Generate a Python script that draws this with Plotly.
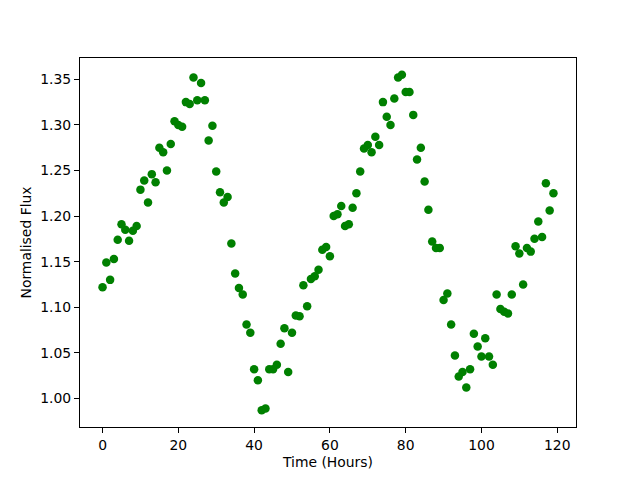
import plotly.graph_objects as go

hours = list(range(120))
flux = [
    1.122, 1.149, 1.130, 1.153, 1.174, 1.191, 1.185, 1.173, 1.184, 1.189,
    1.229, 1.239, 1.215, 1.246, 1.237, 1.275, 1.270, 1.250, 1.279, 1.304,
    1.300, 1.298, 1.325, 1.323, 1.352, 1.327, 1.346, 1.327, 1.283, 1.299,
    1.249, 1.226, 1.215, 1.221, 1.170, 1.137, 1.121, 1.114, 1.081, 1.072,
    1.032, 1.020, 0.987, 0.989, 1.032, 1.032, 1.037, 1.060, 1.077, 1.029,
    1.072, 1.091, 1.090, 1.124, 1.101, 1.131, 1.134, 1.141, 1.163, 1.166,
    1.156, 1.200, 1.202, 1.211, 1.189, 1.191, 1.209, 1.225, 1.249, 1.274,
    1.278, 1.270, 1.287, 1.278, 1.325, 1.309, 1.300, 1.329, 1.352, 1.355,
    1.336, 1.336, 1.311, 1.262, 1.275, 1.238, 1.207, 1.172, 1.165, 1.165,
    1.108, 1.115, 1.081, 1.047, 1.024, 1.029, 1.012, 1.032, 1.071, 1.057,
    1.046, 1.066, 1.046, 1.037, 1.114, 1.098, 1.095, 1.093, 1.114, 1.167,
    1.159, 1.125, 1.165, 1.161, 1.175, 1.194, 1.177, 1.236, 1.206, 1.225,
]

x_ticks = [0, 20, 40, 60, 80, 100, 120]
y_ticks = [1.00, 1.05, 1.10, 1.15, 1.20, 1.25, 1.30, 1.35]
x_title = "Time (Hours)"
y_title = "Normalised Flux"

xpad = (max(hours) - min(hours)) * 0.05
ypad = (max(flux) - min(flux)) * 0.05

fig = go.Figure(go.Scatter(
    x=hours, y=flux, mode="markers",
    marker=dict(color="#008000", size=8.5, line=dict(width=0)),
))

axis_common = dict(
    showline=True, linecolor="black", linewidth=1, mirror=True,
    ticks="outside", ticklen=5, tickwidth=1, tickcolor="black",
    showgrid=False, zeroline=False,
    tickfont=dict(family="DejaVu Sans", size=13.9, color="black"),
)

fig.update_layout(
    width=640, height=480,
    margin=dict(l=72, r=72, t=50, b=61),
    paper_bgcolor="white", plot_bgcolor="white",
    showlegend=False,
    font=dict(family="DejaVu Sans", size=13.9, color="black"),
    xaxis=dict(
        range=[min(hours) - xpad, max(hours) + xpad],
        tickvals=x_ticks, ticktext=[str(t) for t in x_ticks],
        title=dict(text=x_title, font=dict(size=13.9), standoff=5),
        **axis_common,
    ),
    yaxis=dict(
        range=[min(flux) - ypad, max(flux) + ypad],
        tickvals=y_ticks, ticktext=[f"{t:.2f}" for t in y_ticks],
        title=dict(text=y_title, font=dict(size=13.9), standoff=5),
        **axis_common,
    ),
)

fig.write_html("out.html")
